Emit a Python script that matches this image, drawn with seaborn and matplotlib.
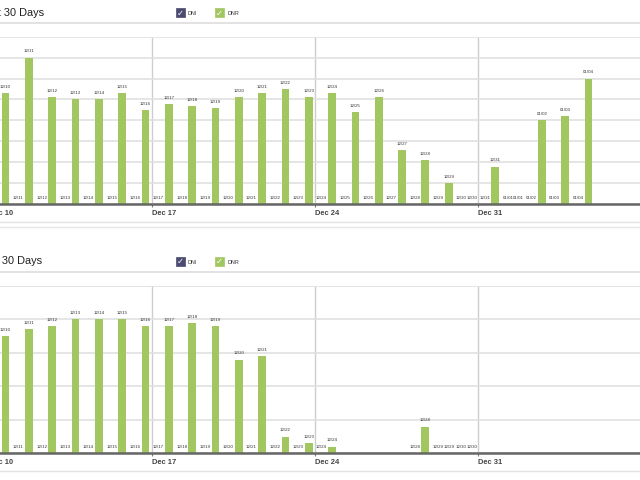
import numpy as np
import pandas as pd
import matplotlib
matplotlib.use("Agg")
import matplotlib.pyplot as plt
import matplotlib.transforms as mtransforms
from matplotlib.patches import Rectangle
from matplotlib.lines import Line2D
import seaborn as sns

# ---------------- data ----------------
all_days = ["12/10", "12/11", "12/12", "12/13", "12/14", "12/15", "12/16",
            "12/17", "12/18", "12/19", "12/20", "12/21", "12/22", "12/23",
            "12/24", "12/25", "12/26", "12/27", "12/28", "12/29", "12/30",
            "12/31", "01/01", "01/02", "01/03", "01/04"]

top_days = all_days
top_dni = [0] * 26
top_dnr = [53, 70, 51, 50, 50, 53, 45, 48, 47, 46, 51, 53, 55, 51,
           53, 44, 51, 26, 21, 10, 0, 18, 0, 40, 42, 60]

bottom_days = ["12/10", "12/11", "12/12", "12/13", "12/14", "12/15", "12/16",
               "12/17", "12/18", "12/19", "12/20", "12/21", "12/22", "12/23",
               "12/24", "12/28", "12/29", "12/30"]
bottom_dni = [0] * 18
bottom_dnr = [35, 37, 38, 40, 40, 40, 38, 38, 39, 38, 28, 29, 5, 3,
              2, 8, 0, 0]

week_starts = ["12/10", "12/17", "12/24", "12/31"]
week_labels = ["Dec 10", "Dec 17", "Dec 24", "Dec 31"]
series = ["DNI", "DNR"]
panel_title = "Last 30 Days"

# ---------------- style ----------------
sns.set_theme(style="white")
plt.rcParams["font.family"] = ["Liberation Sans", "DejaVu Sans"]

palette = {"DNI": "#4b4a70", "DNR": "#a2c760"}
W, H = 640, 480

fig = plt.figure(figsize=(6.4, 4.8), dpi=100)
fig.patch.set_facecolor("white")


def fx(px):
    return px / W


def fy(py):
    return 1 - py / H


def hline(py, color="#dddddd", lw=1.2):
    fig.add_artist(Line2D([0, 1], [fy(py), fy(py)], transform=fig.transFigure,
                          color=color, lw=lw))


def header(py_center, title_right):
    fig.text(fx(title_right), fy(py_center), panel_title, ha="right",
             va="center", fontsize=7.9, color="#222222")
    for box_x, name in zip([176, 215], series):
        fig.add_artist(Rectangle((fx(box_x), fy(py_center + 4.5)), 9 / W, 9 / H,
                                 transform=fig.transFigure,
                                 facecolor=palette[name],
                                 edgecolor=palette[name], lw=0.5))
        fig.text(fx(box_x + 4.6), fy(py_center + 0.2), "\u2713", ha="center",
                 va="center", fontsize=6, color="white", family="DejaVu Sans",
                 fontweight="bold")
        fig.text(fx(box_x + 12), fy(py_center + 0.5), name, ha="left",
                 va="center", fontsize=3.9, color="#333333")


def panel(top_px, bottom_px, days, dni, dnr, ymax):
    # x axes span day slots -1.5 .. 28.5 ; day width 23.32 px, Dec 10 slot at -11.3 px
    left_px = -11.3 - 23.32
    width_px = 30 * 23.32
    ax = fig.add_axes([fx(left_px), fy(bottom_px), width_px / W,
                       (bottom_px - top_px) / H])
    idx = [all_days.index(d) for d in days]
    df = pd.DataFrame({
        "day": idx + idx,
        "value": list(dni) + list(dnr),
        "series": ["DNI"] * len(idx) + ["DNR"] * len(idx),
    })
    sns.barplot(data=df, x="day", y="value", hue="series", hue_order=series,
                palette=palette, native_scale=True, dodge=True, width=0.9,
                gap=0.26, saturation=1, errorbar=None, legend=False,
                linewidth=0, ax=ax)
    for cont in ax.containers:
        labs = [all_days[int(round(r.get_x() + r.get_width() / 2))] for r in cont]
        ax.bar_label(cont, labels=labs, padding=3.0, fontsize=3.2,
                     color="#333333")
    ax.set_xlim(-1.5, 28.5)
    ax.set_ylim(0, ymax)
    ax.set_yticks(np.arange(0, ymax + 1, 10))
    ax.set_yticklabels([])
    week_pos = [all_days.index(w) - 0.5 for w in week_starts]
    ax.set_xticks(week_pos)
    ax.set_xticklabels(week_labels, ha="left", fontsize=5.4,
                       fontweight="bold", color="#444444")
    offset = mtransforms.ScaledTranslation(2.5 / 100, 0, fig.dpi_scale_trans)
    for lab in ax.get_xticklabels():
        lab.set_transform(lab.get_transform() + offset)
    ax.tick_params(axis="x", length=2, width=0.8, color="#777777", pad=2.2,
                   bottom=True)
    ax.tick_params(axis="y", length=0)
    ax.set_xlabel("")
    ax.set_ylabel("")
    ax.set_axisbelow(True)
    ax.yaxis.grid(True, color="#e0e0e0", lw=1.2)
    ax.xaxis.grid(True, color="#cdcdcd", lw=1.0)
    for s in ["top", "right", "left"]:
        ax.spines[s].set_visible(False)
    ax.spines["bottom"].set_color("#666666")
    ax.spines["bottom"].set_linewidth(1.8)
    ax.set_facecolor("none")
    return ax


# top panel
header(12.8, 44)
hline(22.7)
panel(36.6, 204.3, top_days, top_dni, top_dnr, 80)
hline(222.3, "#e2e2e2", 1.0)
hline(227.3, "#e8e8e8", 1.0)

# bottom panel
header(261.5, 42)
hline(272.3)
panel(286.0, 453.3, bottom_days, bottom_dni, bottom_dnr, 50)
hline(470.7, "#e2e2e2", 1.0)

fig.savefig("out.png", dpi=100, facecolor="white")
